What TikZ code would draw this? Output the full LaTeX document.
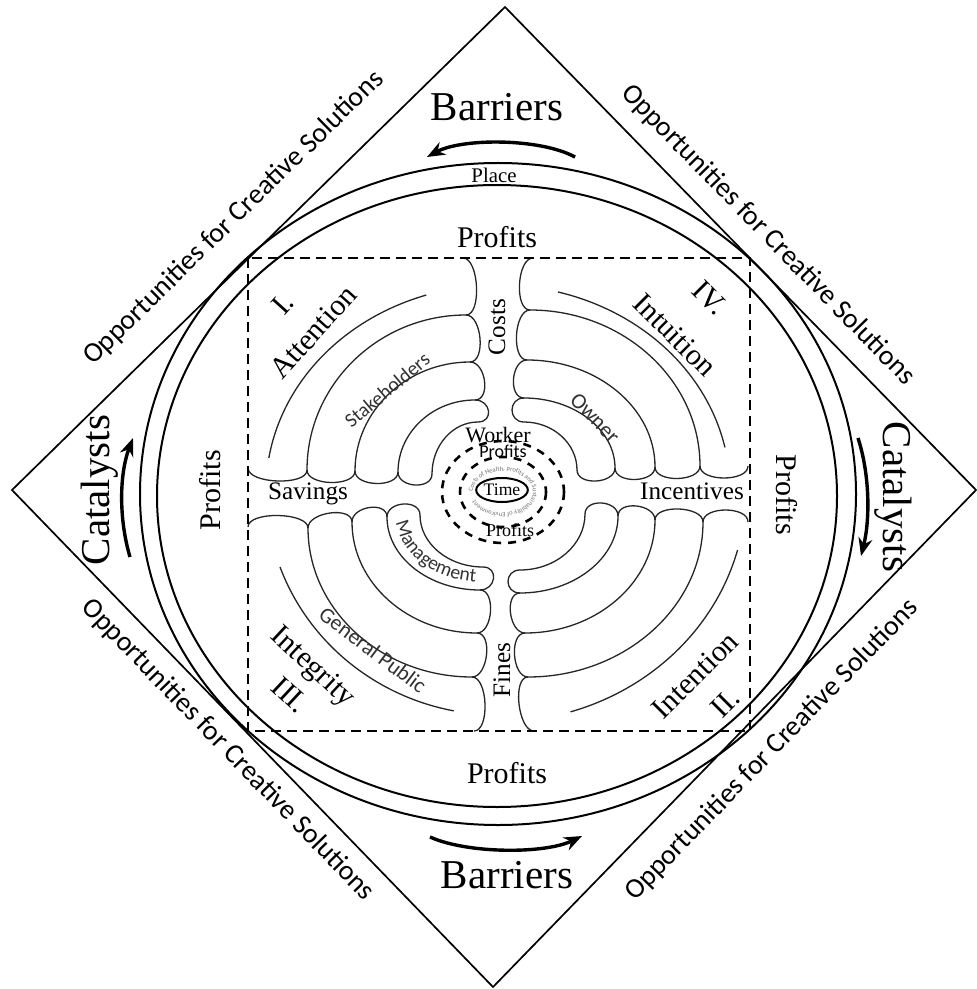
\documentclass[tikz,border=0pt]{standalone}
\usepackage{fontspec}
\setmainfont{Liberation Serif}
\newfontfamily\calib{Carlito}
\usetikzlibrary{arrows.meta,calc,shapes.geometric,decorations.text}
\begin{document}
\begin{tikzpicture}[x=0.5pt,y=-0.5pt,
  diam/.style={line width=0.85pt},
  ringline/.style={line width=1pt},
  lab/.style={line width=0.65pt, black!85},
  dashbox/.style={line width=1pt, dash pattern=on 5pt off 3pt},
  dring/.style={line width=1.3pt, dash pattern=on 4pt off 3.5pt},
  barrow/.style={line width=1.7pt, -{Stealth[length=9pt,width=7pt]}},
  bigtxt/.style={font=\fontsize{20.5}{24}\selectfont, inner sep=0pt},
  proftxt/.style={font=\fontsize{15}{18}\selectfont, inner sep=0pt},
  corrtxt/.style={font=\fontsize{12.6}{15}\selectfont, inner sep=0pt},
  opptxt/.style={font=\calib\fontsize{14}{16}\selectfont, inner sep=0pt},
  sanstxt/.style={font=\calib\fontsize{10}{12}\selectfont, text=black!80, inner sep=0pt}]
\fill[white] (0,0) rectangle (976,989);
\useasboundingbox (0,0) rectangle (976,989);

% ---------- labyrinth coordinates ----------
% quadrant I (upper left)
\coordinate (q1v0) at (463,258); \coordinate (q1h0) at (248,468);
\coordinate (q1v1) at (466,315); \coordinate (q1h1) at (307,470);
\coordinate (q1v2) at (470,362); \coordinate (q1h2) at (355,471);
\coordinate (q1v3) at (475,400); \coordinate (q1h3) at (398,472);
\coordinate (q1v4) at (478,422); \coordinate (q1h4) at (432,474);
% quadrant IV (upper right)
\coordinate (q4v0) at (533,258); \coordinate (q4h0) at (748,466);
\coordinate (q4v1) at (530,310); \coordinate (q4h1) at (700,466);
\coordinate (q4v2) at (527,360); \coordinate (q4h2) at (655,467);
\coordinate (q4v3) at (524,398); \coordinate (q4h3) at (615,468);
\coordinate (q4v4) at (524,422); \coordinate (q4h4) at (577,470);
% quadrant II (lower right)
\coordinate (q2v0) at (534,731); \coordinate (q2h0) at (748,522);
\coordinate (q2v1) at (528,677); \coordinate (q2h1) at (703,522);
\coordinate (q2v2) at (525,633); \coordinate (q2h2) at (655,520);
\coordinate (q2v3) at (520,593); \coordinate (q2h3) at (618,516);
\coordinate (q2v4) at (520,570); \coordinate (q2h4) at (585,514);
% quadrant III (lower left)
\coordinate (q3v0) at (474,731); \coordinate (q3h0) at (248,527);
\coordinate (q3v1) at (472,677); \coordinate (q3h1) at (308,528);
\coordinate (q3v2) at (477,633); \coordinate (q3h2) at (352,522);
\coordinate (q3v3) at (480,590); \coordinate (q3h3) at (387,517);
\coordinate (q3v4) at (483,567); \coordinate (q3h4) at (420,515);

\foreach \q/\s/\t in {1/1/1,4/-1/1,2/-1/-1,3/1/-1}{
  \foreach \k in {0,1,2,3}{
    \pgfmathtruncatemacro\kk{\k+1}
    \draw[lab] (q\q v\k) .. controls +({16*\s},0) and +({16*\s},0) .. (q\q v\kk);
    \draw[lab] (q\q h\k) .. controls +(0,{16*\t}) and +(0,{16*\t}) .. (q\q h\kk);
  }
  \foreach \k in {1,2,3,4}{
    \coordinate (q\q k\k) at (q\q h\k |- q\q v\k);
    \draw[lab] (q\q v\k) .. controls ($(q\q v\k)!0.55!(q\q k\k)$) and ($(q\q h\k)!0.55!(q\q k\k)$) .. (q\q h\k);
  }
}
% free arcs
\draw[lab] plot[domain=108:171, samples=40, smooth] ({498+232*cos(\x)},{490-205*sin(\x)});
\draw[lab] plot[domain=12:75, samples=40, smooth] ({498+232*cos(\x)},{490-205*sin(\x)});
\draw[lab] plot[domain=-73:-15, samples=40, smooth] ({498+248*cos(\x)},{490-232*sin(\x)});
\draw[lab] plot[domain=200:259, samples=40, smooth] ({498+232*cos(\x)},{490-225*sin(\x)});

% dashed square
\coordinate (rTL) at (248,258); \coordinate (rBR) at (750,731);
\draw[dashbox] (rTL) rectangle (rBR);

% centre
\draw[dring] (503,492) ellipse[x radius=61, y radius=51];
\draw[dring] (503,492) ellipse[x radius=43, y radius=35];
\path[decorate, decoration={text along path, text align=left,
  text={|\calib\fontsize{3.3}{4}\selectfont\color{black!55}|Costs of Health, Profits and Sustainability of Environment}}]
  (473,492) arc[start angle=180, end angle=540, x radius=30, y radius=21];
\node[draw, ellipse, line width=1pt, minimum width=22pt, minimum height=12pt, inner sep=0pt,
  font=\fontsize{8.8}{10}\selectfont] (time) at (502,490) {Time};
\node[font=\fontsize{11}{12}\selectfont, inner sep=0pt] (worker) at (498,435) {Worker};
\node[font=\calib\fontsize{9}{11}\selectfont, inner sep=0pt] (wprof) at (503,451) {Profits};
\node[font=\fontsize{9}{11}\selectfont, inner sep=0pt] (bprof) at (510,530) {Profits};

% corridor labels
\node[corrtxt, rotate=90] (costs) at (497,327) {Costs};
\node[corrtxt, rotate=90] (fines) at (502,670) {Fines};
\node[corrtxt] (sav) at (308,494) {Savings};
\node[corrtxt] (inc) at (692,491) {Incentives};

% quadrant labels
\node[proftxt, rotate=48] (q1num) at (283,304) {I.};
\node[proftxt, rotate=48] (q1name) at (313,332) {Attention};
\node[proftxt, rotate=-45] (q4num) at (710,298) {IV.};
\node[proftxt, rotate=-45] (q4name) at (675,335) {Intuition};
\node[proftxt, rotate=-43] (q3name) at (312,668) {Integrity};
\node[proftxt, rotate=-43] (q3num) at (290,695) {III.};
\node[proftxt, rotate=45] (q2name) at (695,675) {Intention};
\node[proftxt, rotate=45] (q2num) at (725,703) {II.};
\node[sanstxt, rotate=40] (stake) at (387,390) {Stakeholders};
\node[sanstxt, font=\calib\fontsize{11}{13}\selectfont, rotate=-46] (owner) at (595,418) {Owner};
\node[sanstxt, font=\calib\fontsize{10.9}{13}\selectfont, rotate=-37] (genpub) at (373,650) {General Public};
\coordinate (mgA) at (395,512); \coordinate (mgB) at (486,582);
\path[decorate, decoration={text along path, text align=center,
  text={|\calib\fontsize{9.8}{11}\selectfont\color{black!80}|Management}}]
  (mgA) .. controls (396,553) and (432,582) .. (mgB);

% circles
\draw[ringline] (498,494) ellipse[x radius=358, y radius=331];
\draw[ringline] (497,496) ellipse[x radius=340, y radius=311];
\node[font=\fontsize{10.4}{12}\selectfont, inner sep=0pt] (place) at (494,175) {Place};
\node[proftxt] (profT) at (497,237) {Profits};
\node[proftxt] (profB) at (507,773) {Profits};
\node[proftxt, rotate=90] (profL) at (210,490) {Profits};
\node[proftxt, rotate=-90] (profR) at (787,495) {Profits};

% diamond
\coordinate (dT) at (505,7); \coordinate (dR) at (976,490);
\coordinate (dB) at (493,987); \coordinate (dL) at (12,490);
\draw[diam] (dT) -- (dR) -- (dB) -- (dL) -- cycle;

\node[bigtxt] (barT) at (497,107) {Barriers};
\node[bigtxt] (barB) at (507,875) {Barriers};
\node[bigtxt, rotate=90] (catL) at (100,490) {Catalysts};
\node[bigtxt, rotate=-90] (catR) at (893,497) {Catalysts};

\node[opptxt, rotate=44.4] (oppUL) at (234,218) {Opportunities for Creative Solutions};
\node[opptxt, rotate=-45.7] (oppUR) at (768,235) {Opportunities for Creative Solutions};
\node[opptxt, rotate=-45.9] (oppLL) at (228,750) {Opportunities for Creative Solutions};
\node[opptxt, rotate=45.8] (oppLR) at (772,750) {Opportunities for Creative Solutions};

% arrows
\coordinate (aTs) at (575,157); \coordinate (aTe) at (427,157);
\draw[barrow] (aTs) .. controls (540,138) and (462,138) .. (aTe);
\coordinate (aBs) at (430,837); \coordinate (aBe) at (582,836);
\draw[barrow] (aBs) .. controls (468,854) and (545,854) .. (aBe);
\coordinate (aLs) at (130,557); \coordinate (aLe) at (133,438);
\draw[barrow] (aLs) .. controls (119,520) and (119,475) .. (aLe);
\coordinate (aRs) at (858,438); \coordinate (aRe) at (861,556);
\draw[barrow] (aRs) .. controls (870,475) and (870,520) .. (aRe);
\end{tikzpicture}
\end{document}
